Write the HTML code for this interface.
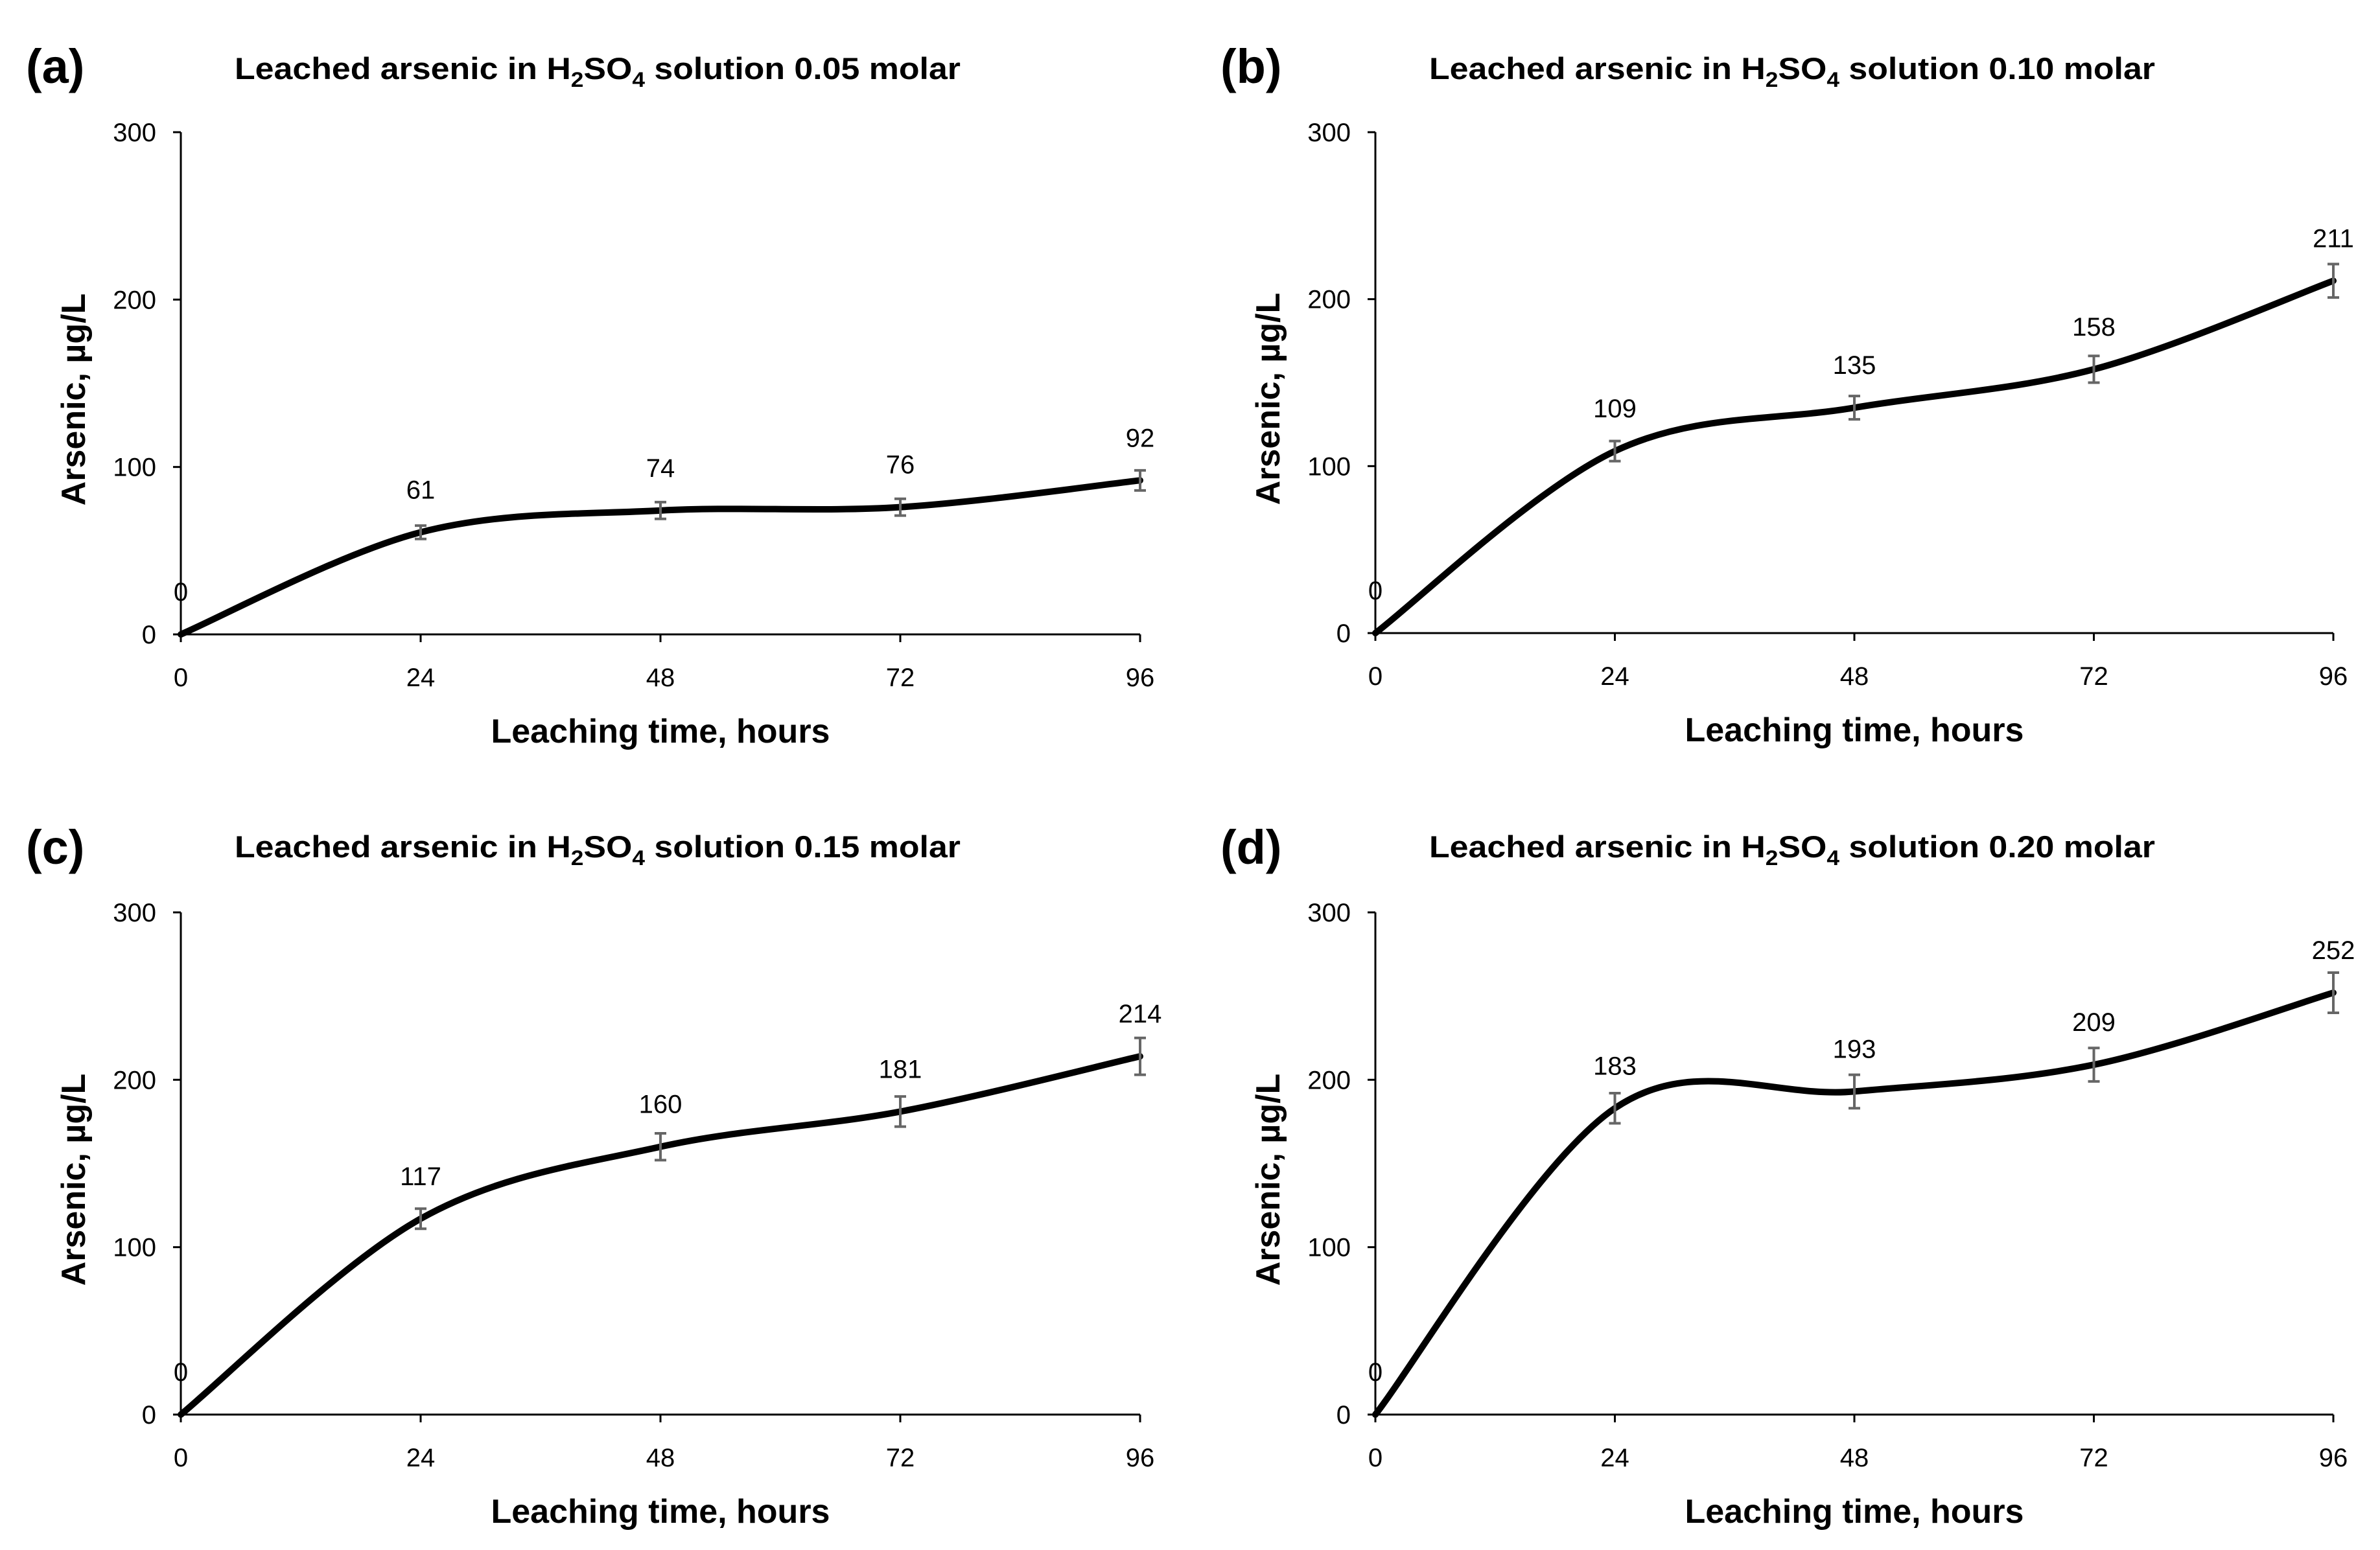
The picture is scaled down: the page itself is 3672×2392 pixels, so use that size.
<!DOCTYPE html>
<html><head><meta charset="utf-8"><style>
html,body{margin:0;padding:0;background:#fff;}
svg text{font-family:"Liberation Sans",sans-serif;}
</style></head><body>
<svg id="fig" width="3672" height="2387" viewBox="0 0 3672 2387" xmlns="http://www.w3.org/2000/svg"></svg>
<script>
const hours=[0,24,48,72,96];
const yTicks=[0,100,200,300];
const seriesA=[0,61,74,76,92];
const seriesB=[0,109,135,158,211];
const seriesC=[0,117,160,181,214];
const seriesD=[0,183,193,209,252];
const errA=[0,4,5,5,6];
const errB=[0,6,7,8,10];
const errC=[0,6,8,9,11];
const errD=[0,9,10,10,12];
const titlesConc=["0.05","0.10","0.15","0.20"];
const letters=["(a)","(b)","(c)","(d)"];

const NS="http://www.w3.org/2000/svg";
const svg=document.getElementById('fig');
function mk(tag,attrs,parent){const e=document.createElementNS(NS,tag);for(const k in attrs)e.setAttribute(k,attrs[k]);(parent||svg).appendChild(e);return e;}

const panels=[
 {x0:279,x1:1759,y0:979,y1:204,lx:40,ly:128,tx:922,ty:122,s:seriesA,e:errA,name:'a'},
 {x0:2122,x1:3600,y0:977,y1:204,lx:1883,ly:128,tx:2765,ty:122,s:seriesB,e:errB,name:'b'},
 {x0:279,x1:1759,y0:2183,y1:1408,lx:40,ly:1333,tx:922,ty:1323,s:seriesC,e:errC,name:'c'},
 {x0:2122,x1:3600,y0:2183,y1:1408,lx:1883,ly:1333,tx:2765,ty:1323,s:seriesD,e:errD,name:'d'}
];
panels.forEach((p,i)=>{
 const g=mk('g',{});
 
 
 const X=v=>p.x0+(v-0)/96*(p.x1-p.x0);
 const Y=v=>p.y0+(v/300)*(p.y1-p.y0);
 let t=mk('text',{x:p.lx,y:p.ly,'font-size':74,'font-weight':'bold'},g);t.textContent=letters[i];
 
 t=mk('text',{x:p.tx,y:p.ty,'font-size':47,'font-weight':'bold','text-anchor':'middle','textLength':1120,'lengthAdjust':'spacingAndGlyphs'},g);
 
 t.innerHTML='Leached arsenic in H<tspan font-size="32" dy="12">2</tspan><tspan dy="-12">SO</tspan><tspan font-size="32" dy="12">4</tspan><tspan dy="-12"> solution '+titlesConc[i]+' molar</tspan>';
 let a=mk('line',{x1:p.x0,y1:p.y0,x2:p.x0,y2:p.y1,stroke:'#000','stroke-width':3},g);
 
 a=mk('line',{x1:p.x0,y1:p.y0,x2:p.x1,y2:p.y0,stroke:'#000','stroke-width':3},g);
 
 yTicks.forEach(v=>{
  mk('line',{x1:p.x0-12,y1:Y(v),x2:p.x0,y2:Y(v),stroke:'#000','stroke-width':3},g);
  const tt=mk('text',{x:p.x0-38,y:Y(v)+14,'font-size':40,'text-anchor':'end'},g);tt.textContent=v;
  
 });
 hours.forEach(v=>{
  mk('line',{x1:X(v),y1:p.y0,x2:X(v),y2:p.y0+12,stroke:'#000','stroke-width':3},g);
  const tt=mk('text',{x:X(v),y:p.y0+80,'font-size':40,'text-anchor':'middle'},g);tt.textContent=v;
  
 });
 t=mk('text',{x:(p.x0+p.x1)/2,y:p.y0+167,'font-size':52,'font-weight':'bold','text-anchor':'middle'},g);
 t.textContent='Leaching time, hours';
 
 const cy=(p.y0+p.y1)/2+25;
 t=mk('text',{x:0,y:0,'font-size':52,'font-weight':'bold','text-anchor':'middle',transform:`translate(${p.x0-148},${cy}) rotate(-90)`},g);
 t.textContent='Arsenic, µg/L';
 
 const pts=hours.map((h,k)=>[X(h),Y(p.s[k])]);
 let d='M'+pts[0][0]+','+pts[0][1];
 for(let k=0;k<pts.length-1;k++){
  const p0=pts[Math.max(0,k-1)],p1=pts[k],p2=pts[k+1],p3=pts[Math.min(pts.length-1,k+2)];
  const c1=[p1[0]+(p2[0]-p0[0])/6,p1[1]+(p2[1]-p0[1])/6];
  const c2=[p2[0]-(p3[0]-p1[0])/6,p2[1]-(p3[1]-p1[1])/6];
  d+=` C${c1[0]},${c1[1]} ${c2[0]},${c2[1]} ${p2[0]},${p2[1]}`;
 }
 const line=mk('path',{d:d,fill:'none',stroke:'#000','stroke-width':10,'stroke-linecap':'round'},g);
 
 hours.forEach((h,k)=>{
  const x=X(h),v=p.s[k],e=p.e[k];
  if(e>0){
   const eb=mk('path',{d:`M${x},${Y(v+e)}V${Y(v-e)}M${x-9},${Y(v+e)}H${x+9}M${x-9},${Y(v-e)}H${x+9}`,stroke:'#666','stroke-width':4,fill:'none'},g);
   
  }
  const lb=mk('text',{x:x,y:Y(v)-52,'font-size':40,'text-anchor':'middle'},g);lb.textContent=v;
  
 });
});
</script>
</body></html>
